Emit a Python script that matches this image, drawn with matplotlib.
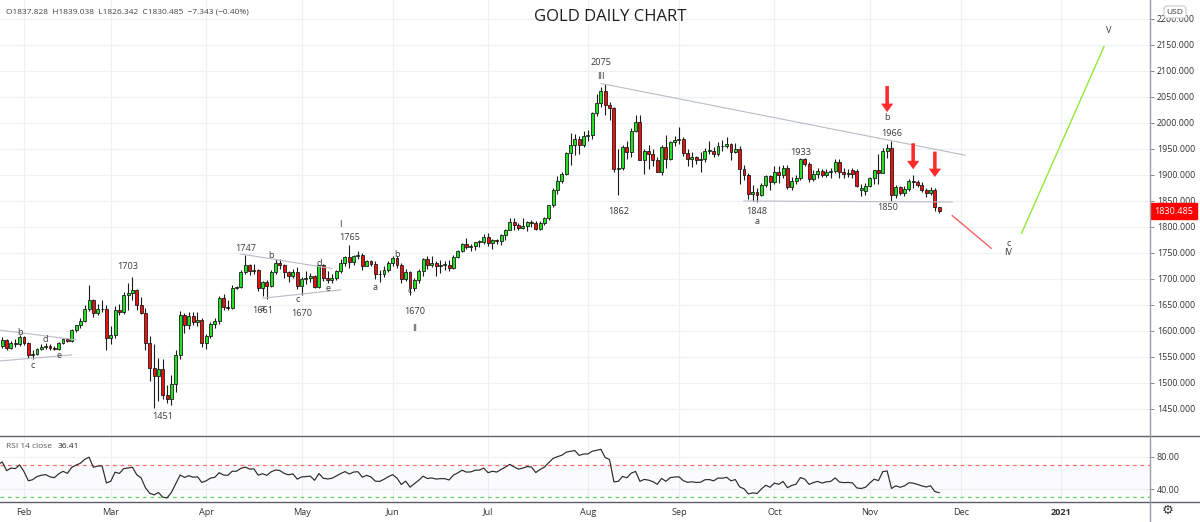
import numpy as np
import pandas as pd
import matplotlib
matplotlib.use("Agg")
import matplotlib.pyplot as plt
from matplotlib.patches import Rectangle, FancyArrowPatch
from matplotlib.lines import Line2D
import matplotlib.transforms as mtransforms

plt.rcParams['font.family'] = ['Open Sans', 'DejaVu Sans']

# ---------------- data ----------------
FIRST_DAY = "2020-01-27"
LAST_DAY = "2020-11-24"
ORIGIN_DAY = "2020-02-03"
WARMUP_START = "2019-12-02"

opens = [1571, 1582, 1567, 1577, 1575,
         1589, 1576, 1553, 1556, 1566, 1570, 1572, 1567, 1565, 1576, 1584, 1580, 1601, 1611, 1620, 1643, 1659, 1635, 1642, 1643,
         1586, 1593, 1641, 1636, 1669, 1673, 1679, 1649, 1635, 1576, 1529, 1514, 1526, 1477, 1469, 1498, 1553, 1631, 1612, 1629, 1617, 1621,
         1577, 1590, 1613, 1620, 1663, 1647, 1645, 1683, 1684, 1713, 1726, 1716, 1717, 1683, 1695, 1686, 1714, 1730, 1727, 1713, 1706, 1713,
         1686, 1700, 1702, 1705, 1685, 1726, 1702, 1698, 1702, 1715, 1730, 1743, 1733, 1745, 1747, 1725, 1735, 1728, 1710, 1709, 1718,
         1730, 1740, 1727, 1699, 1714, 1683, 1698, 1715, 1738, 1727, 1730, 1725, 1727, 1727, 1722, 1743, 1754, 1768, 1762, 1763, 1771, 1772,
         1781, 1769, 1775, 1773, 1784, 1795, 1809, 1803, 1798, 1802, 1809, 1808, 1796, 1808, 1818, 1842, 1872, 1888, 1902, 1942, 1958, 1970, 1957,
         1975, 1976, 2019, 2039, 2062, 2035, 2028, 1911, 1914, 1953, 1944, 1985, 2002, 1929, 1946, 1940, 1928, 1906, 1954, 1930, 1963,
         1968, 1970, 1943, 1930, 1934, 1929, 1931, 1946, 1947, 1940, 1956, 1955, 1960, 1944, 1950, 1912, 1900, 1863, 1868, 1862, 1881, 1898,
         1886, 1906, 1899, 1913, 1877, 1888, 1894, 1930, 1922, 1892, 1902, 1908, 1899, 1905, 1907, 1924, 1905, 1902, 1909, 1908, 1871, 1870,
         1879, 1894, 1909, 1904, 1947, 1951, 1862, 1876, 1866, 1873, 1889, 1887, 1880, 1872, 1866, 1871, 1837.828]
highs = [1588, 1584, 1580, 1584, 1592,
         1591, 1578, 1563, 1568, 1574, 1576, 1574, 1571, 1578, 1586, 1586, 1604, 1612, 1624, 1649, 1689, 1662, 1651, 1660, 1650,
         1610, 1648, 1652, 1674, 1692, 1703, 1681, 1666, 1645, 1590, 1575, 1548, 1547, 1497, 1516, 1563, 1638, 1635, 1637, 1637, 1636, 1625,
         1595, 1617, 1625, 1667, 1672, 1659, 1689, 1686, 1717, 1747, 1729, 1729, 1720, 1697, 1698, 1717, 1738, 1738, 1729, 1716, 1719, 1723,
         1703, 1716, 1711, 1708, 1727, 1729, 1716, 1710, 1717, 1738, 1745, 1765, 1747, 1753, 1749, 1737, 1737, 1735, 1717, 1724, 1735,
         1745, 1744, 1730, 1720, 1716, 1702, 1720, 1740, 1745, 1744, 1735, 1736, 1734, 1737, 1746, 1756, 1769, 1779, 1768, 1772, 1775, 1786,
         1789, 1776, 1777, 1786, 1797, 1818, 1818, 1808, 1817, 1811, 1814, 1811, 1811, 1820, 1843, 1874, 1898, 1906, 1945, 1981, 1978, 1975, 1984,
         1987, 2021, 2055, 2069, 2075, 2040, 2031, 1950, 1957, 1965, 1990, 2015, 2015, 1950, 1958, 1950, 1934, 1958, 1977, 1966, 1975,
         1992, 1973, 1950, 1945, 1937, 1945, 1952, 1966, 1954, 1964, 1967, 1973, 1962, 1961, 1955, 1919, 1903, 1881, 1875, 1884, 1900, 1900,
         1917, 1918, 1920, 1920, 1896, 1899, 1933, 1933, 1925, 1909, 1913, 1912, 1912, 1914, 1931, 1931, 1913, 1911, 1914, 1912, 1882, 1884,
         1897, 1910, 1941, 1951, 1960, 1966, 1880, 1878, 1879, 1892, 1900, 1890, 1887, 1875, 1876, 1875, 1839.038]
lows = [1568, 1563, 1565, 1570, 1571,
        1573, 1548, 1547, 1553, 1563, 1566, 1563, 1563, 1563, 1574, 1578, 1578, 1598, 1606, 1617, 1638, 1627, 1630, 1636, 1563,
        1575, 1587, 1630, 1633, 1640, 1659, 1640, 1633, 1564, 1504, 1451, 1465, 1470, 1462, 1458, 1482, 1546, 1596, 1604, 1612, 1610, 1570,
        1566, 1587, 1605, 1614, 1640, 1640, 1642, 1680, 1682, 1710, 1707, 1710, 1676, 1667, 1661, 1684, 1709, 1720, 1702, 1695, 1701, 1680,
        1670, 1691, 1694, 1683, 1683, 1697, 1693, 1692, 1698, 1711, 1725, 1721, 1726, 1739, 1717, 1724, 1725, 1700, 1694, 1704, 1713,
        1724, 1721, 1693, 1696, 1670, 1677, 1693, 1705, 1720, 1723, 1705, 1712, 1718, 1716, 1720, 1740, 1751, 1757, 1754, 1756, 1762, 1767,
        1764, 1757, 1768, 1765, 1774, 1794, 1795, 1795, 1797, 1793, 1799, 1794, 1795, 1803, 1813, 1839, 1863, 1884, 1900, 1920, 1938, 1940, 1954,
        1965, 1970, 2014, 2031, 2015, 2005, 1905, 1862, 1909, 1930, 1934, 1983, 1929, 1902, 1912, 1918, 1905, 1900, 1914, 1928, 1955,
        1960, 1936, 1917, 1915, 1922, 1906, 1925, 1940, 1935, 1937, 1947, 1951, 1929, 1943, 1882, 1891, 1854, 1849, 1848, 1860, 1877, 1872,
        1882, 1884, 1895, 1873, 1871, 1883, 1891, 1918, 1886, 1889, 1894, 1897, 1896, 1895, 1904, 1895, 1895, 1896, 1895, 1877, 1860, 1862,
        1876, 1882, 1882, 1903, 1933, 1850, 1855, 1862, 1860, 1870, 1874, 1876, 1867, 1858, 1862, 1830, 1826.342]
closes = [1582, 1567, 1576, 1575, 1589,
          1576, 1553, 1556, 1566, 1570, 1572, 1567, 1565, 1576, 1584, 1580, 1601, 1611, 1620, 1643, 1659, 1635, 1642, 1643, 1586,
          1593, 1641, 1636, 1669, 1673, 1679, 1649, 1635, 1576, 1529, 1514, 1526, 1477, 1469, 1498, 1553, 1631, 1612, 1629, 1617, 1621, 1577,
          1590, 1613, 1620, 1663, 1647, 1645, 1683, 1684, 1713, 1726, 1716, 1717, 1683, 1695, 1686, 1714, 1730, 1727, 1713, 1706, 1713, 1686,
          1700, 1702, 1705, 1685, 1726, 1702, 1698, 1702, 1715, 1730, 1743, 1733, 1745, 1747, 1725, 1735, 1728, 1710, 1709, 1718, 1730,
          1740, 1727, 1699, 1714, 1683, 1698, 1715, 1738, 1727, 1730, 1725, 1727, 1727, 1722, 1743, 1754, 1768, 1762, 1763, 1771, 1772, 1781,
          1769, 1775, 1773, 1784, 1795, 1809, 1803, 1798, 1802, 1809, 1808, 1796, 1808, 1818, 1842, 1872, 1888, 1902, 1942, 1958, 1970, 1957, 1975,
          1976, 2019, 2039, 2062, 2035, 2028, 1911, 1914, 1953, 1944, 1985, 2002, 1929, 1946, 1940, 1928, 1906, 1954, 1930, 1963, 1968,
          1970, 1943, 1930, 1934, 1929, 1931, 1946, 1947, 1940, 1956, 1955, 1960, 1944, 1950, 1912, 1900, 1863, 1868, 1862, 1881, 1898, 1886,
          1906, 1899, 1913, 1877, 1888, 1894, 1930, 1922, 1892, 1902, 1908, 1899, 1905, 1907, 1924, 1905, 1902, 1903, 1901, 1878, 1875, 1879,
          1894, 1909, 1904, 1947, 1951, 1862, 1876, 1866, 1873, 1889, 1887, 1880, 1872, 1866, 1871, 1837.828, 1830.485]
# closes before the visible range, used only to warm up the RSI
warmup_closes = [1463, 1477, 1474, 1475, 1460, 1462, 1465, 1475, 1469, 1476,
                 1476, 1476, 1475, 1479, 1478, 1486, 1498, 1499, 1511, 1510,
                 1515, 1517, 1518, 1528, 1552, 1566, 1574, 1556, 1552, 1562,
                 1548, 1545, 1557, 1552, 1557, 1560, 1558, 1558, 1563, 1572]

month_starts = ["2020-02-03", "2020-03-02", "2020-04-01", "2020-05-01", "2020-06-01", "2020-07-01",
                "2020-08-03", "2020-09-01", "2020-10-01", "2020-11-02", "2020-12-01", "2021-01-01"]
month_labels = ["Feb", "Mar", "Apr", "May", "Jun", "Jul", "Aug", "Sep", "Oct", "Nov", "Dec", "2021"]
price_ticks = list(range(1450, 2201, 50))
rsi_ticks = [40, 80]
RSI_LEN = 14
RSI_HI, RSI_LO = 70, 30

title = "GOLD DAILY CHART"
ohlc_text = "O1837.828  H1839.038  L1826.342  C1830.485  \u22127.343 (\u22120.40%)"
rsi_caption = "RSI 14 close"
rsi_value_text = "36.41"
last_price = 1830.485

wave_labels = [("b", "2020-01-31", 1597), ("c", "2020-02-05", 1533), ("d", "2020-02-10", 1583),
               ("e", "2020-02-13", 1552), ("1703", "2020-03-06", 1724), ("1451", "2020-03-18", 1436),
               ("1747", "2020-04-14", 1759), ("b", "2020-04-22", 1746), ("1661", "2020-04-20", 1640),
               ("a", "2020-04-20", 1643), ("c", "2020-04-30", 1661), ("1670", "2020-05-01", 1634),
               ("d", "2020-05-07", 1729), ("e", "2020-05-11", 1682), ("I", "2020-05-14", 1805),
               ("1765", "2020-05-18", 1779), ("a", "2020-05-26", 1684), ("b", "2020-06-02", 1748),
               ("c", "2020-06-05", 1677), ("1670", "2020-06-08", 1638), ("II", "2020-06-08", 1605),
               ("2075", "2020-08-06", 2117), ("III", "2020-08-06", 2090), ("1862", "2020-08-12", 1829),
               ("1848", "2020-09-25", 1829), ("a", "2020-09-25", 1810), ("1933", "2020-10-09", 1944),
               ("b", "2020-11-06", 2010), ("1966", "2020-11-09", 1979), ("1850", "2020-11-06", 1838),
               ("c", "2020-12-16", 1769), ("IV", "2020-12-16", 1750), ("V", "2021-01-18", 2177)]
gray_lines = [(("2020-01-24", 1602), ("2020-02-19", 1583)),
              (("2020-01-24", 1542), ("2020-02-18", 1554)),
              (("2020-04-13", 1748), ("2020-05-12", 1720)),
              (("2020-04-20", 1663), ("2020-05-14", 1679)),
              (("2020-08-06", 2076), ("2020-12-02", 1938)),
              (("2020-09-22", 1850), ("2020-11-27", 1848))]
red_path = [("2020-11-27", 1822), ("2020-12-10", 1759)]
green_path = [("2020-12-21", 1788), ("2021-01-15", 2147)]
arrows = [("2020-11-06", 2071, 2021), ("2020-11-16", 1961, 1911), ("2020-11-23", 1945, 1896)]

# ---------------- helpers ----------------
calendar = pd.bdate_range("2019-11-01", "2021-03-31")
origin_idx = calendar.get_loc(pd.Timestamp(ORIGIN_DAY))


def dpos(d):
    return calendar.get_loc(pd.Timestamp(d)) - origin_idx


dates = pd.bdate_range(FIRST_DAY, LAST_DAY)
pos = np.array([dpos(d) for d in dates], dtype=float)
wdates = pd.bdate_range(WARMUP_START, "2020-01-24")
wpos = np.array([dpos(d) for d in wdates], dtype=float)

W, H = 1200, 522
fig = plt.figure(figsize=(W / 100, H / 100), dpi=100)
fig.patch.set_facecolor("white")
AX_RIGHT = 1150
MAIN_BOTTOM = 436
RSI_BOTTOM = 502
ax = fig.add_axes([0, 1 - MAIN_BOTTOM / H, AX_RIGHT / W, MAIN_BOTTOM / H])
axr = fig.add_axes([0, 1 - RSI_BOTTOM / H, AX_RIGHT / W, (RSI_BOTTOM - MAIN_BOTTOM) / H])

XMIN, XMAX = -5.53, 259.6
for a in (ax, axr):
    a.set_xlim(XMIN, XMAX)
    a.set_facecolor("white")
    for s in ("top", "left", "bottom", "right"):
        a.spines[s].set_visible(False)

ax.set_ylim(1398, 2236.5)
axr.set_ylim(24.4, 105.6)

grid_c = "#edf0f5"
mpos = [dpos(d) for d in month_starts]
for a in (ax, axr):
    for m in mpos:
        a.axvline(m, color=grid_c, lw=0.9, zorder=0)
for p in price_ticks:
    ax.axhline(p, color=grid_c, lw=0.9, zorder=0)
for r in rsi_ticks:
    axr.axhline(r, color=grid_c, lw=0.9, zorder=0)

# candles
up_c, dn_c = "#22e022", "#e81212"
bw = 0.68
for x, o, h, l, c in zip(pos, opens, highs, lows, closes):
    ax.plot([x, x], [l, h], color="#1a1a1a", lw=0.8, zorder=2, solid_capstyle="butt")
    lo, hi = min(o, c), max(o, c)
    ax.add_patch(Rectangle((x - bw / 2, lo), bw, max(hi - lo, 1.2),
                           facecolor=up_c if c >= o else dn_c, edgecolor="#111111",
                           lw=0.55, zorder=3))

# price axis
ax.yaxis.tick_right()
ax.set_yticks(price_ticks)
ax.set_yticklabels([f"{p:.3f}" for p in price_ticks])
ax.tick_params(axis="y", direction="out", length=3, width=0.7, color="#888888",
               labelsize=6.4, labelcolor="#333333", pad=2)
ax.set_xticks([])

# lines
for (d1, p1), (d2, p2) in gray_lines:
    ax.plot([dpos(d1), dpos(d2)], [p1, p2], color="#b8bcc4", lw=0.8, zorder=4)
ax.plot([dpos(d) for d, _ in red_path], [p for _, p in red_path], color="#ff5252", lw=0.9, zorder=4)
ax.plot([dpos(d) for d, _ in green_path], [p for _, p in green_path], color="#8fe83a", lw=1.0, zorder=4)

for txt, d, p in wave_labels:
    ax.text(dpos(d), p, txt, ha="center", va="center", fontsize=6.6, color="#3a3a3a", zorder=5)

for d, p_tail, p_tip in arrows:
    ax.add_patch(FancyArrowPatch((dpos(d), p_tail), (dpos(d), p_tip),
                                 arrowstyle="simple,head_length=0.38,head_width=0.55,tail_width=0.16",
                                 mutation_scale=16, color="#ff2a2a", lw=0, zorder=6,
                                 shrinkA=0, shrinkB=0))

# last price tag
trans = mtransforms.blended_transform_factory(ax.transAxes, ax.transData)
ax.text(1.004, last_price, f"{last_price:.3f}", transform=trans, ha="left", va="center",
        fontsize=6.5, color="white", clip_on=False, zorder=10,
        bbox=dict(boxstyle="square,pad=0.4", fc="#ff0000", ec="#ff0000"))

# RSI
all_closes = np.array(warmup_closes + closes, dtype=float)
all_pos = np.concatenate([wpos, pos])
ch = np.diff(all_closes)
upm = np.clip(ch, 0, None)
dnm = np.clip(-ch, 0, None)
au = np.full(len(ch), np.nan)
ad = np.full(len(ch), np.nan)
au[RSI_LEN - 1] = upm[:RSI_LEN].mean()
ad[RSI_LEN - 1] = dnm[:RSI_LEN].mean()
for k in range(RSI_LEN, len(ch)):
    au[k] = (au[k - 1] * (RSI_LEN - 1) + upm[k]) / RSI_LEN
    ad[k] = (ad[k - 1] * (RSI_LEN - 1) + dnm[k]) / RSI_LEN
rsi = 100 - 100 / (1 + au / ad)
rsi_pos = all_pos[1:]
axr.fill_between([XMIN, XMAX], RSI_LO, RSI_HI, color="#7e57c2", alpha=0.025, lw=0, zorder=0)
axr.plot(rsi_pos, rsi, color="#2b2b2b", lw=0.85, zorder=3)
axr.axhline(RSI_HI, color="#ff6b6b", lw=0.9, ls=(0, (3, 3)), zorder=2)
axr.axhline(RSI_LO, color="#5fdc5f", lw=0.9, ls=(0, (3, 3)), zorder=2)
axr.yaxis.tick_right()
axr.set_yticks(rsi_ticks)
axr.set_yticklabels([f"{r:.2f}" for r in rsi_ticks])
axr.tick_params(axis="y", direction="out", length=3, width=0.7, color="#888888",
                labelsize=6.4, labelcolor="#333333", pad=2)
axr.set_xticks(mpos)
axr.set_xticklabels(month_labels)
axr.tick_params(axis="x", length=0, labelsize=6.6, labelcolor="#333333", pad=4)
for lbl in axr.get_xticklabels():
    if lbl.get_text() == "2021":
        lbl.set_fontweight("bold")

# frame lines
def px(x, y):
    return x / W, 1 - y / H

fig.add_artist(Line2D([0, 1], [1 - MAIN_BOTTOM / H] * 2, color="#5d6068", lw=1.0))
fig.add_artist(Line2D([0, 1], [1 - RSI_BOTTOM / H] * 2, color="#5d6068", lw=1.0))
fig.add_artist(Line2D([AX_RIGHT / W] * 2, [0, 1], color="#9a9ea6", lw=1.0))

# texts
fig.text(*px(610, 17), title, ha="center", va="center", fontsize=12, color="#1e1e1e")
fig.text(*px(6, 12), ohlc_text, ha="left", va="center", fontsize=6.0, color="#444444")
fig.text(*px(6, 447), rsi_caption, ha="left", va="center", fontsize=6.0, color="#555555")
fig.text(*px(58, 447), rsi_value_text, ha="left", va="center", fontsize=6.0, color="#222222")
fig.text(*px(1175, 12), "USD", ha="center", va="center", fontsize=6.0, color="#333333",
         bbox=dict(boxstyle="round,pad=0.3", fc="white", ec="#c8cbd2", lw=0.8), zorder=20)
fig.text(*px(1168, 510), "\u2699", ha="center", va="center", fontsize=9.5, color="#333333",
         family="DejaVu Sans")

fig.savefig("out.png", dpi=100, facecolor="white")
